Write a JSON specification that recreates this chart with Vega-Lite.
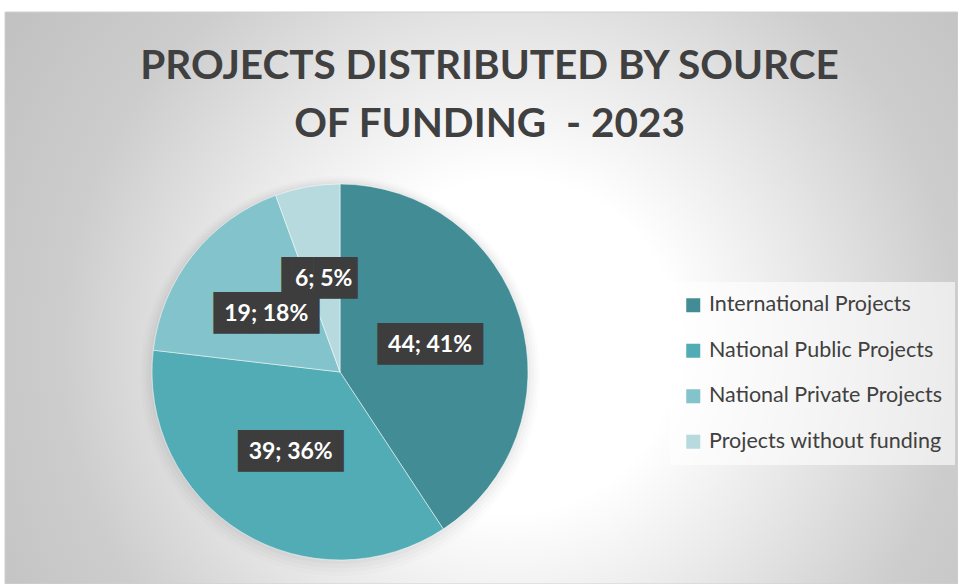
{
  "$schema": "https://vega.github.io/schema/vega-lite/v6.json",
  "width": 953,
  "height": 572,
  "autosize": {"type": "none"},
  "padding": {"left": 5, "top": 12, "right": 0, "bottom": 0},
  "background": "white",
  "title": {
    "text": ["PROJECTS DISTRIBUTED BY SOURCE", "OF FUNDING \u00a0- 2023"],
    "font": "Lato",
    "fontSize": 40.5,
    "fontWeight": "bold",
    "color": "#404040",
    "lineHeight": 58,
    "anchor": "middle",
    "frame": "group",
    "offset": -134,
    "dx": 8
  },
  "data": {
    "values": [
      {"category": "International Projects", "value": 44, "label": "44; 41%"},
      {"category": "National Public Projects", "value": 39, "label": "39; 36%"},
      {"category": "National Private Projects", "value": 19, "label": "19; 18%"},
      {"category": "Projects without funding", "value": 6, "label": "6; 5%"}
    ]
  },
  "layer": [
    {
      "data": {"values": [{}]},
      "mark": {
        "type": "rect",
        "stroke": "#d0d0d0",
        "strokeWidth": 1,
        "color": {
          "gradient": "radial",
          "x1": 0.53, "y1": 0.55, "r1": 0,
          "x2": 0.53, "y2": 0.55, "r2": 0.7,
          "stops": [
            {"offset": 0, "color": "#ffffff"},
            {"offset": 0.25, "color": "#ffffff"},
            {"offset": 0.45, "color": "#e8e8e8"},
            {"offset": 0.67, "color": "#cdcdcd"},
            {"offset": 0.88, "color": "#c2c2c2"},
            {"offset": 1, "color": "#bdbdbd"}
          ]
        }
      },
      "encoding": {}
    },
    {
      "data": {"values": [{}]},
      "mark": {"type": "arc", "outerRadius": 200, "xOffset": -141.5, "yOffset": 78, "color": "black", "opacity": 0.012},
      "encoding": {}
    },
    {
      "data": {"values": [{}]},
      "mark": {"type": "arc", "outerRadius": 197, "xOffset": -141.5, "yOffset": 77, "color": "black", "opacity": 0.016},
      "encoding": {}
    },
    {
      "data": {"values": [{}]},
      "mark": {"type": "arc", "outerRadius": 194, "xOffset": -141.5, "yOffset": 76, "color": "black", "opacity": 0.02},
      "encoding": {}
    },
    {
      "data": {"values": [{}]},
      "mark": {"type": "arc", "outerRadius": 191, "xOffset": -141.5, "yOffset": 75, "color": "black", "opacity": 0.025},
      "encoding": {}
    },
    {
      "mark": {"type": "arc", "outerRadius": 188, "xOffset": -141.5, "yOffset": 74, "stroke": "white", "strokeWidth": 0.5},
      "encoding": {
        "theta": {"field": "value", "type": "quantitative", "stack": true},
        "order": {"field": "value", "sort": "descending"},
        "color": {
          "field": "category",
          "type": "nominal",
          "scale": {
            "domain": ["International Projects", "National Public Projects", "National Private Projects", "Projects without funding"],
            "range": ["#428D95", "#52ACB5", "#83C3CB", "#B7DADF"]
          },
          "legend": {
            "title": null,
            "orient": "none",
            "legendX": 665,
            "legendY": 270,
            "fillColor": "rgba(255,255,255,0.6)",
            "padding": 12.5,
            "rowPadding": 22.5,
            "symbolType": "square",
            "symbolSize": 196,
            "symbolStrokeWidth": 0,
            "symbolOpacity": 1,
            "labelFont": "Lato",
            "labelFontSize": 21.5,
            "labelColor": "#404040",
            "labelOffset": 5,
            "labelLimit": 400
          }
        }
      }
    },
    {
      "mark": {"type": "text", "radius": 94, "xOffset": -141.5, "yOffset": 74, "font": "DejaVu Sans Mono", "fontSize": 35, "color": "#3d3d3d", "align": "center", "baseline": "middle"},
      "encoding": {
        "theta": {"field": "value", "type": "quantitative", "stack": true},
        "order": {"field": "value", "sort": "descending"},
        "text": {"condition": {"test": "datum.value < 10", "value": "▐███▏"}, "value": "█████"}
      }
    },
    {
      "mark": {"type": "text", "radius": 94, "xOffset": -141.5, "yOffset": 74, "font": "Lato", "fontSize": 23, "fontWeight": "bold", "color": "white", "align": "center", "baseline": "middle"},
      "encoding": {
        "theta": {"field": "value", "type": "quantitative", "stack": true},
        "order": {"field": "value", "sort": "descending"},
        "text": {"field": "label", "type": "nominal"}
      }
    }
  ],
  "config": {
    "view": {"stroke": null}
  }
}
